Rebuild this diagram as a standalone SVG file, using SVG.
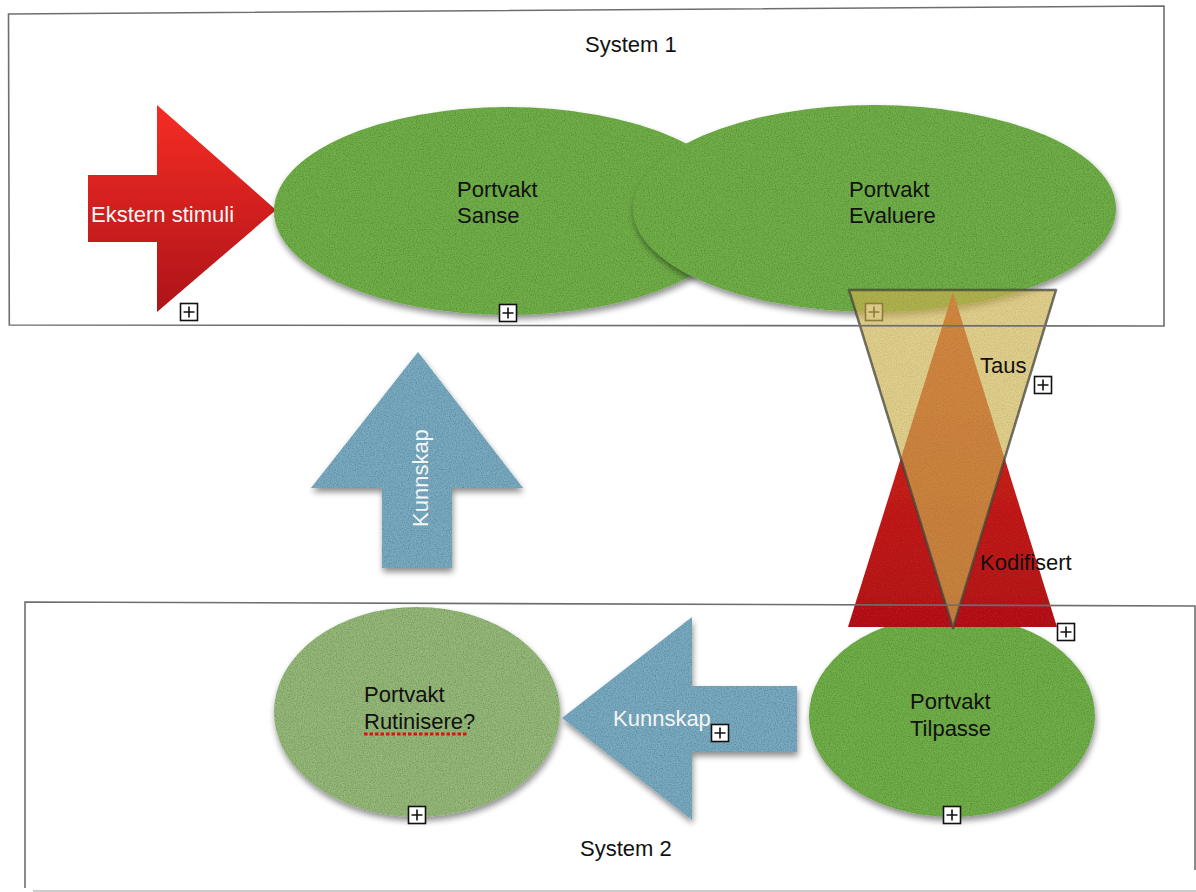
<svg xmlns="http://www.w3.org/2000/svg" width="1196" height="892" viewBox="0 0 1196 892">
<style>
text{font-family:"Liberation Sans",Arial,sans-serif;font-size:22px;fill:#111}
.w{fill:#f4f6f6}
.frame{fill:none;stroke:#6e6e6e;stroke-width:1.6}
.green{fill:#71b04a}
.blue{fill:#79abc2}
.pb rect{fill:#fff;stroke:#111;stroke-width:1.6}
.pb path{stroke:#111;stroke-width:1.6;fill:none}
</style>
<defs>
<linearGradient id="redArrow" x1="0" y1="0" x2="0" y2="1">
<stop offset="0" stop-color="#f62c24"/><stop offset="1" stop-color="#ad1319"/>
</linearGradient>
<linearGradient id="redTri" x1="0" y1="0" x2="0" y2="1">
<stop offset="0" stop-color="#de2c24"/><stop offset="1" stop-color="#b8181b"/>
</linearGradient>
<filter id="tex" x="-10%" y="-10%" width="120%" height="130%">
<feTurbulence type="fractalNoise" baseFrequency="0.85" numOctaves="2" seed="4" result="n"/>
<feColorMatrix in="n" type="matrix" values="0 0 0 0 0  0 0 0 0 0  0 0 0 0 0  0.8 0 0 0 -0.3" result="na"/>
<feComposite in="na" in2="SourceAlpha" operator="in" result="speck"/>
<feGaussianBlur in="SourceAlpha" stdDeviation="3" result="b"/>
<feOffset in="b" dx="1" dy="4" result="bo"/>
<feComponentTransfer in="bo" result="shadow"><feFuncA type="linear" slope="0.45"/></feComponentTransfer>
<feMerge><feMergeNode in="shadow"/><feMergeNode in="SourceGraphic"/><feMergeNode in="speck"/></feMerge>
</filter>
<filter id="texflat" x="-5%" y="-5%" width="110%" height="110%">
<feTurbulence type="fractalNoise" baseFrequency="0.85" numOctaves="2" seed="7" result="n"/>
<feColorMatrix in="n" type="matrix" values="0 0 0 0 0  0 0 0 0 0  0 0 0 0 0  0.6 0 0 0 -0.22" result="na"/>
<feComposite in="na" in2="SourceAlpha" operator="in" result="speck"/>
<feMerge><feMergeNode in="SourceGraphic"/><feMergeNode in="speck"/></feMerge>
</filter>
<g id="plus" class="pb"><rect x="-8.5" y="-8.5" width="17" height="17"/><path d="M-5.5,0H5.5M0,-5.5V5.5"/></g>
</defs>

<g id="node-ekstern-stimuli">
<polygon points="88,175 157,175 157,105 276,210 157,312 157,242 88,242" fill="url(#redArrow)"/>
<text class="w" x="91" y="222">Ekstern stimuli</text>
<use href="#plus" x="189" y="312"/>
</g>

<g id="node-sanse">
<ellipse class="green" cx="508" cy="211" rx="234" ry="104" filter="url(#tex)"/>
<text x="457" y="197">Portvakt</text>
<text x="457" y="223">Sanse</text>
<use href="#plus" x="508" y="313"/>
</g>

<g id="node-evaluere">
<ellipse class="green" cx="874.5" cy="208.5" rx="241.5" ry="103.5" filter="url(#tex)"/>
<text x="849" y="197">Portvakt</text>
<text x="849" y="223">Evaluere</text>
<use href="#plus" x="874" y="312"/>
</g>

<g id="node-tilpasse">
<ellipse class="green" cx="952" cy="716" rx="143" ry="101" filter="url(#tex)"/>
<text x="910" y="709">Portvakt</text>
<text x="910" y="736">Tilpasse</text>
<use href="#plus" x="952" y="815"/>
</g>

<g id="node-rutinisere">
<ellipse cx="417" cy="712" rx="143" ry="105" fill="#95b979" filter="url(#tex)"/>
<text x="364" y="702">Portvakt</text>
<text x="364" y="729">Rutinisere?</text>
<path d="M364,734H468" stroke="#e01010" stroke-width="3" stroke-dasharray="3.5,2"/>
<use href="#plus" x="417" y="815"/>
</g>

<g id="node-kodifisert">
<polygon points="953,292 1057,627 848,627" fill="url(#redTri)" filter="url(#texflat)"/>
<text x="980" y="570">Kodifisert</text>
<use href="#plus" x="1066" y="632"/>
</g>

<g id="node-taus">
<polygon points="849,290 1056,290 953,628" fill="rgb(208,182,80)" fill-opacity="0.66" stroke="#4a4a40" stroke-opacity="0.75" stroke-width="2.5" stroke-linejoin="round" filter="url(#texflat)"/>
<text x="980" y="373">Taus</text>
<use href="#plus" x="1043" y="385"/>
</g>

<g id="node-kunnskap-up">
<polygon class="blue" points="418,352 523,488 452,488 452,568 382,568 382,488 311,488" filter="url(#tex)"/>
<text class="w" transform="translate(428,527) rotate(-90)">Kunnskap</text>
</g>

<g id="node-kunnskap-left">
<polygon class="blue" points="562,718 692,617 692,686 797,686 797,752 692,752 692,820" filter="url(#tex)"/>
<text class="w" x="613" y="726">Kunnskap</text>
<use href="#plus" x="720" y="733"/>
</g>

<g id="frames">
<path class="frame" d="M8.5,14 L1164,6 L1164,326 L9.3,325 Z"/>
<text x="585" y="52">System 1</text>
<path class="frame" d="M1195,870 L1195,606 L25,602 L25,888"/>
<path d="M33,891 H1196" stroke="#bbb" stroke-width="1.5"/>
<text x="580" y="856">System 2</text>
</g>
</svg>
